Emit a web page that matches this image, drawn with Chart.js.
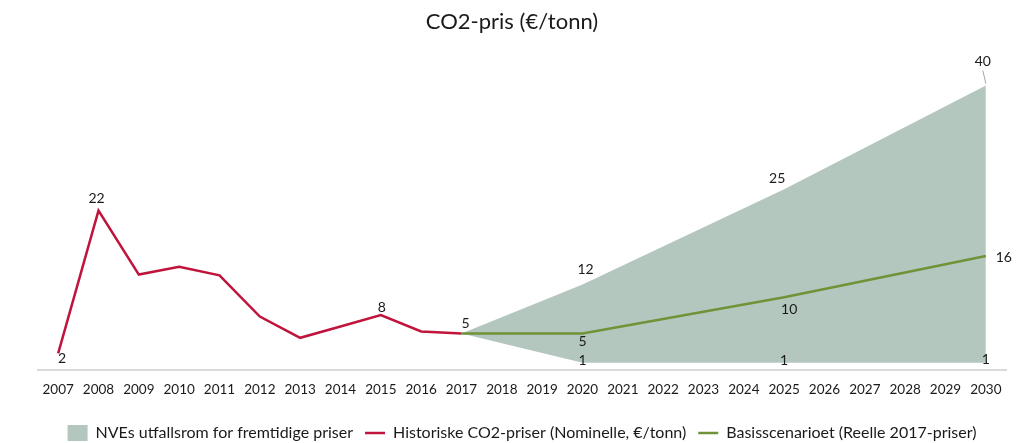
<!DOCTYPE html>
<html>
<head>
<meta charset="utf-8">
<script src="https://cdn.jsdelivr.net/npm/chart.js@4/dist/chart.umd.min.js"></script>
<style>
html,body{margin:0;padding:0;background:#fff;}
#wrap{width:1024px;height:443px;}
</style>
</head>
<body>
<div id="wrap"><canvas id="co2Chart"></canvas></div>
<script>
// CO2-pris, historisk og framskrevet

const years = ["2007","2008","2009","2010","2011","2012","2013","2014","2015","2016","2017","2018",
"2019","2020","2021","2022","2023","2024","2025","2026","2027","2028","2029","2030"];

const historic = [2.3,22.4,13.4,14.5,13.3,7.5,4.5,6.1,7.7,5.4,5.1,null,
null,null,null,null,null,null,null,null,null,null,null,null];

const baseCase = [null,null,null,null,null,null,null,null,null,null,5.1,null,
null,5.1,null,null,null,null,10.2,null,null,null,null,16];

const bandHigh = [null,null,null,null,null,null,null,null,null,null,5.1,null,
null,12,null,null,null,null,25.4,null,null,null,null,40];

const bandLow = [null,null,null,null,null,null,null,null,null,null,5.1,null,
null,1,null,null,null,null,1,null,null,null,null,1];

const seriesNames = ["NVEs utfallsrom for fremtidige priser","",
"Historiske CO2-priser (Nominelle, €/tonn)","Basisscenarioet (Reelle 2017-priser)"];

const chartTitle = "CO2-pris (€/tonn)";

const FONT = "Lato, 'Noto Sans', sans-serif";
const TXT = "#1a1a1a";

// which points get a value label, and where the text sits relative to the point
const labelSpots = {
0:[{i:13,dx:3,dy:-15},{i:18,dx:-7,dy:-11},{i:23,dx:-3,dy:-24,leader:true}],
1:[{i:13,dx:0,dy:-2},{i:18,dx:0,dy:-2},{i:23,dx:0,dy:-3}],
2:[{i:0,dx:4,dy:5},{i:1,dx:-2,dy:-12},{i:8,dx:1,dy:-8},{i:10,dx:4,dy:-10}],
3:[{i:13,dx:0,dy:8},{i:18,dx:5,dy:12},{i:23,dx:18,dy:1}]
};

const valueLabels = {
id:"valueLabels",
afterDatasetsDraw(chart){
const ctx = chart.ctx;
ctx.save();
ctx.font = "14px " + FONT;
ctx.fillStyle = TXT;
ctx.textAlign = "center";
ctx.textBaseline = "middle";
Object.keys(labelSpots).forEach(function(ds){
const meta = chart.getDatasetMeta(ds);
const vals = chart.data.datasets[ds].data;
labelSpots[ds].forEach(function(s){
const pt = meta.data[s.i];
if(!pt) return;
ctx.fillText(String(Math.round(vals[s.i])), pt.x + s.dx, pt.y + s.dy);
if(s.leader){
ctx.strokeStyle = "#a6a6a6";
ctx.lineWidth = 1;
ctx.beginPath();
ctx.moveTo(pt.x + s.dx, pt.y + s.dy + 9);
ctx.lineTo(pt.x, pt.y - 2);
ctx.stroke();
}
});
});
// title centred on the whole canvas, not on the padded layout box
ctx.font = "22px " + FONT;
ctx.fillText(chartTitle, chart.width / 2, 22);
ctx.restore();
}
};

new Chart(document.getElementById("co2Chart"),{
type:"line",
data:{
labels:years,
datasets:[
{
label:seriesNames[0],
data:bandHigh,
borderWidth:0,
borderColor:"rgba(0,0,0,0)",
backgroundColor:"#b4c7be",
fill:"+1",
pointRadius:0,
spanGaps:true,
order:3
},
{
label:seriesNames[1],
data:bandLow,
borderWidth:0,
borderColor:"rgba(0,0,0,0)",
backgroundColor:"#b4c7be",
fill:false,
pointRadius:0,
spanGaps:true,
order:3
},
{
label:seriesNames[2],
data:historic,
borderColor:"#c0143c",
backgroundColor:"#c0143c",
borderWidth:2.5,
pointRadius:0,
fill:false,
order:1
},
{
label:seriesNames[3],
data:baseCase,
borderColor:"#6f9337",
backgroundColor:"#6f9337",
borderWidth:2.5,
pointRadius:0,
spanGaps:true,
fill:false,
order:1
}
]
},
options:{
responsive:true,
maintainAspectRatio:false,
animation:false,
layout:{padding:{left:38,right:18,top:50,bottom:-8}},
scales:{
x:{
offset:true,
grid:{display:false,drawTicks:false},
border:{display:true,color:"#d9d9d9",width:2},
ticks:{color:TXT,font:{family:FONT,size:13.5},padding:12,maxRotation:0,autoSkip:false},
afterFit:function(s){ s.height += 3; }
},
y:{
display:false,
min:0,
max:45
}
},
plugins:{
title:{display:false},
legend:{
position:"bottom",
labels:{
color:TXT,
font:{family:FONT,size:16},
usePointStyle:true,
pointStyleWidth:20,
padding:12,
sort:function(a,b){ return a.datasetIndex - b.datasetIndex; },
filter:function(item){ return item.text !== ""; },
generateLabels:function(chart){
const items = Chart.defaults.plugins.legend.labels.generateLabels(chart);
items.forEach(function(it){
it.pointStyle = it.datasetIndex === 0 ? "rect" : "line";
if(it.datasetIndex === 0){ it.lineWidth = 0; it.strokeStyle = "#b4c7be"; }
});
return items;
}
}
},
tooltip:{enabled:false}
}
},
plugins:[valueLabels]
});
</script>
</body>
</html>
